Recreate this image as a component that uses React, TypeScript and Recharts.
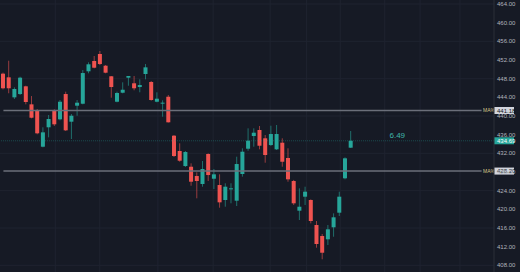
import React from 'react';
import {
  ComposedChart, Bar, XAxis, YAxis, CartesianGrid, ReferenceLine, ReferenceDot,
} from 'recharts';

// OHLC per candle, oldest first
const opens = [
  449.07, 448.29, 444.0, 444.71, 446.36, 442.5, 441.28, 433.42, 437.58, 441.22,
  439.29, 444.71, 438.78, 442.21, 442.63, 449.58, 451.79, 453.29, 450.78, 448.51,
  443.06, 444.99, 448.21, 447.01, 446.21, 449.0, 447.29, 443.06, 442.8, 444.13,
  435.78, 432.5, 429.28, 429.13, 427.14, 425.43, 431.86, 426.56, 425.21, 422.0,
  424.45, 421.85, 427.57, 432.99, 435.71, 437.0, 435.22, 433.78, 432.86, 434.28,
  431.0, 426.07, 419.71, 422.71, 422.0, 416.64, 414.28, 413.58, 416.15, 419.28,
  426.65, 433.21,
];
const highs = [
  449.3, 451.85, 446.15, 448.42, 446.5, 444.28, 441.5, 437.58, 440.21, 441.43,
  443.43, 445.21, 440.43, 443.43, 449.86, 451.5, 452.86, 453.93, 450.93, 448.57,
  445.21, 447.22, 448.57, 448.57, 447.86, 451.14, 447.5, 445.08, 443.36, 444.5,
  435.93, 434.15, 432.5, 429.86, 427.93, 430.36, 432.0, 428.64, 427.5, 425.58,
  425.58, 431.28, 433.08, 437.36, 437.36, 437.86, 435.93, 437.92, 438.07, 435.22,
  433.08, 426.3, 424.5, 424.85, 422.14, 417.5, 414.71, 416.64, 419.14, 423.78,
  431.14, 436.78,
];
const lows = [
  445.7, 444.87, 443.64, 444.5, 442.5, 439.5, 436.08, 433.29, 435.43, 437.86,
  439.07, 436.78, 435.07, 440.06, 442.5, 449.15, 450.22, 450.93, 449.15, 443.92,
  442.93, 444.86, 446.49, 445.51, 445.08, 447.86, 443.28, 442.93, 439.85, 438.6,
  431.21, 430.2, 429.07, 425.06, 422.36, 424.85, 426.07, 424.35, 420.35, 420.56,
  421.29, 420.71, 427.0, 432.56, 433.42, 432.86, 429.99, 433.57, 432.71, 429.13,
  425.92, 420.93, 417.71, 420.93, 417.0, 411.78, 409.29, 412.35, 414.13, 418.57,
  426.43, 433.14,
];
const closes = [
  445.94, 445.94, 445.79, 448.21, 443.0, 439.63, 436.29, 436.5, 439.36, 438.22,
  443.06, 436.93, 440.06, 442.85, 449.21, 451.08, 450.35, 451.14, 449.28, 446.21,
  444.93, 445.63, 448.57, 445.94, 446.64, 450.43, 443.43, 443.71, 442.86, 438.65,
  431.43, 430.42, 432.28, 425.92, 426.07, 428.64, 427.35, 427.5, 421.5, 424.85,
  424.5, 429.71, 432.35, 434.71, 436.42, 433.63, 431.64, 436.14, 436.14, 430.2,
  426.43, 421.29, 420.56, 423.78, 417.5, 412.57, 410.7, 415.72, 418.29, 422.71,
  430.93, 434.69,
];

const priceTicks = [408, 412, 416, 420, 424, 428, 432, 436, 440, 444, 448, 452, 456, 460, 464];
const gridPrices = [408, 416, 424, 432, 440, 448, 456, 464];
const gridSlots = [0.1, 9.2, 17.0, 27.2, 36.9, 46.9, 53.3, 59.2, 67.0, 73.2, 80.2];

const maSlow = 441.18;
const maFast = 428.2;
const lastPrice = 434.69;
const changeText = '6.49';

const UP = '#26a69a';
const DOWN = '#ef5350';
const BG = '#161a25';
const FONT = 'Liberation Sans, Arial, sans-serif';

const data = opens.map((o, i) => ({ i, open: o, high: highs[i], low: lows[i], close: closes[i] }));

const Candle = (props: any) => {
  const { x, y, width, height, payload } = props;
  const { open, close, high, low } = payload;
  const color = close >= open ? UP : DOWN;
  const top = Math.min(y, y + height);
  const h = Math.abs(height);
  const ppu = h / (high - low);
  const bodyTop = top + (high - Math.max(open, close)) * ppu;
  const bodyH = Math.max(Math.abs(open - close) * ppu, 1);
  const cx = x + width / 2;
  return (
    <g>
      <line x1={cx} x2={cx} y1={top} y2={top + h} stroke={color} strokeOpacity={0.6} />
      <rect x={x} y={bodyTop} width={width} height={bodyH} fill={color} />
    </g>
  );
};

// box on the price scale + small tag before it
const axisTag = (text: string, box: string, ink: string, tag?: string) => (p: any) => {
  const vb = p.viewBox;
  const right = vb.x + vb.width;
  const yy = vb.y;
  return (
    <g>
      {tag && (
        <text x={right - 11} y={yy} dy="0.35em" fontSize={5} fill="#d8c98c" fontFamily={FONT}>
          {tag}
        </text>
      )}
      <rect x={right} y={yy - 3.5} width={20} height={7} fill={box} />
      <text x={right + 3} y={yy} dy="0.35em" fontSize={6} fill={ink} fontFamily={FONT}>
        {text}
      </text>
    </g>
  );
};

export default function App() {
  return (
    <div style={{ position: 'fixed', left: 0, top: 0, width: 520, height: 272, background: BG }}>
      <ComposedChart width={520} height={272} data={data} margin={{ top: 0, right: 0, bottom: 0, left: 0 }}>
        <XAxis type="number" dataKey="i" domain={[-0.5, 86.17]} hide allowDataOverflow />
        <YAxis
          orientation="right"
          width={26}
          domain={[406.57, 464.86]}
          allowDataOverflow
          ticks={priceTicks}
          interval={0}
          tickFormatter={(v: number) => v.toFixed(2)}
          tick={{ fill: '#b2b5be', fontSize: 6, fontFamily: FONT }}
          tickLine={false}
          tickSize={0}
          tickMargin={3}
          axisLine={{ stroke: '#2a2e39' }}
        />
        <CartesianGrid stroke="#1f2330" horizontalValues={gridPrices} verticalValues={gridSlots} />
        <ReferenceLine y={lastPrice} stroke={UP} strokeOpacity={0.35} strokeDasharray="1 1"
          label={axisTag(lastPrice.toFixed(2), UP, '#ffffff')} />
        <ReferenceLine segment={[{ x: 0.1, y: maSlow }, { x: 84, y: maSlow }]} stroke="#6b6f7a" strokeWidth={1.5} />
        <ReferenceLine segment={[{ x: 0.1, y: maFast }, { x: 84, y: maFast }]} stroke="#6b6f7a" strokeWidth={1.5} />
        <ReferenceLine y={maSlow} stroke="none" label={axisTag(maSlow.toFixed(2), '#d1d4dc', '#131722', 'MA%')} />
        <ReferenceLine y={maFast} stroke="none" label={axisTag(maFast.toFixed(2), '#d1d4dc', '#131722', 'MA%')} />
        <Bar dataKey={(d: any) => [d.low, d.high]} barSize={4} shape={Candle} isAnimationActive={false} />
        <ReferenceDot x={69.2} y={435.9} r={0} stroke="none"
          label={{ value: changeText, fill: '#3fb6ac', fontSize: 8, fontFamily: FONT }} />
      </ComposedChart>
    </div>
  );
}
